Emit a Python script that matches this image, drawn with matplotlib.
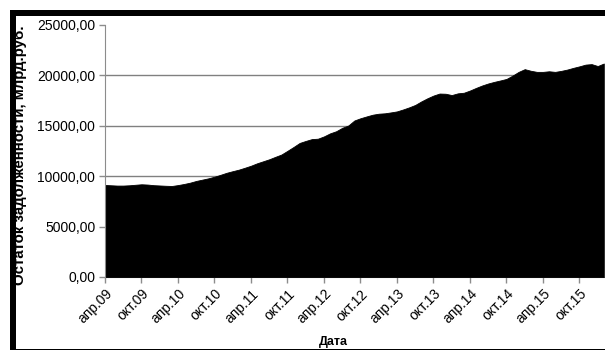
import matplotlib
matplotlib.use("Agg")
import matplotlib.pyplot as plt
from matplotlib.patches import Rectangle
from matplotlib.ticker import FixedLocator, FuncFormatter

plt.rcParams['font.family'] = ['Liberation Sans', 'DejaVu Sans']

# Monthly outstanding debt, bn RUB, April 2009 - February 2016
debt = [
    9130, 9100, 9070, 9070, 9100, 9150, 9200, 9170, 9110, 9080, 9050, 9030,
    9120, 9230, 9360, 9530, 9660, 9790, 9950, 10140, 10340, 10500, 10650, 10840,
    11040, 11280, 11480, 11680, 11920, 12150, 12520, 12900, 13300, 13500, 13680, 13720,
    13950, 14250, 14460, 14800, 15030, 15530, 15750, 15930, 16100, 16200, 16240, 16330,
    16430, 16620, 16830, 17070, 17420, 17730, 18000, 18200, 18180, 18050, 18220, 18280,
    18500, 18760, 19000, 19200, 19360, 19500, 19650, 19980, 20350, 20620, 20460, 20350,
    20350, 20410, 20350, 20450, 20580, 20750, 20900, 21070, 21120, 20930, 21180,
]
months = list(range(len(debt)))

tick_labels = ["апр.09", "окт.09", "апр.10", "окт.10", "апр.11", "окт.11",
               "апр.12", "окт.12", "апр.13", "окт.13", "апр.14", "окт.14",
               "апр.15", "окт.15"]
tick_step = 6
y_ticks = [0, 5000, 10000, 15000, 20000, 25000]

W, H = 605, 351
AX_L, AX_R, AX_T, AX_B = 105, 603.8, 25, 277
fig = plt.figure(figsize=(W / 100, H / 100), dpi=100)
fig.patch.set_facecolor("white")

ax = fig.add_axes([AX_L / W, 1 - AX_B / H, (AX_R - AX_L) / W, (AX_B - AX_T) / H])
ax.fill_between(months, debt, 0, color="black", linewidth=0.6, zorder=3)

ax.set_xlim(0, len(debt) - 1)
ax.set_ylim(0, 25000)

ax.yaxis.set_major_locator(FixedLocator(y_ticks))
ax.yaxis.set_major_formatter(FuncFormatter(lambda v, p: f"{v:.2f}".replace(".", ",")))
ax.xaxis.set_major_locator(FixedLocator([i * tick_step for i in range(len(tick_labels))]))
ax.set_xticklabels(tick_labels, rotation=45, ha="right", va="top", rotation_mode="anchor")

ax.grid(axis="y", color="#808080", linewidth=1.0, zorder=1)
ax.set_axisbelow(True)
# no gridline along the top of the plot area
ax.yaxis.get_gridlines()[-1].set_visible(False)

for side in ("top", "right"):
    ax.spines[side].set_visible(False)
ax.spines["left"].set_color("#8c8c8c")
ax.spines["bottom"].set_color("#8c8c8c")
ax.spines["left"].set_zorder(4)

ax.tick_params(axis="both", colors="#8c8c8c", length=4, width=1, direction="out",
               labelcolor="black", labelsize=10)
ax.tick_params(axis="y", pad=3)
ax.tick_params(axis="x", pad=3)

aw, ah = AX_R - AX_L, AX_B - AX_T
ax.set_ylabel("Остаток задолженности, млрд.руб.", fontsize=10.8, fontweight="bold")
ax.yaxis.set_label_coords(-(AX_L - 27.5) / aw, (AX_B - 155) / ah)
ax.set_xlabel("Дата", fontsize=9, fontweight="bold")
ax.xaxis.set_label_coords((333 - AX_L) / aw, -(335.5 - AX_B) / ah)

# frame around the chart
fig.patches.append(Rectangle((10 / W, 1 - 16 / H), 1, 6 / H, transform=fig.transFigure,
                             facecolor="black", edgecolor="none", zorder=10))
fig.patches.append(Rectangle((10 / W, 1 - 350 / H), 6 / W, 340 / H, transform=fig.transFigure,
                             facecolor="black", edgecolor="none", zorder=10))
fig.patches.append(Rectangle((10 / W, 1 - 350 / H), 1, 1.2 / H, transform=fig.transFigure,
                             facecolor="black", edgecolor="none", zorder=10))

fig.savefig("out.png", dpi=100)
